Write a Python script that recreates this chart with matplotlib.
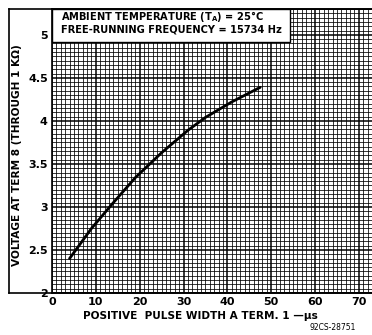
import matplotlib
matplotlib.use('Agg')
from matplotlib import pyplot as plt
from matplotlib.ticker import MultipleLocator
from matplotlib.patches import Rectangle

plt.rcParams.update({
    'font.family': 'DejaVu Sans',
    'font.weight': 'bold',
    'figure.dpi': 100,
})

# curve
pulse_width = [4, 9, 14, 19, 25, 31, 35, 41, 47.5]
voltage = [2.40, 2.75, 3.05, 3.34, 3.63, 3.89, 4.04, 4.22, 4.39]

x_ticks = [0, 10, 20, 30, 40, 50, 60, 70]
y_ticks = [2, 2.5, 3, 3.5, 4, 4.5, 5]
y_tick_labels = ['2', '2.5', '3', '3.5', '4', '4.5', '5']

fig = plt.figure(figsize=(3.72, 3.35))
ax = fig.add_axes([52 / 372, 1 - 293 / 335, 320 / 372, 284 / 335])

ax.plot(pulse_width, voltage, color='black', lw=2.0, solid_capstyle='round')

ax.set_xlim(0, 73)
ax.set_ylim(2, 5.30)
ax.set_xticks(x_ticks)
ax.set_yticks(y_ticks)
ax.set_yticklabels(y_tick_labels)
ax.xaxis.set_minor_locator(MultipleLocator(1))
ax.yaxis.set_minor_locator(MultipleLocator(0.05))
ax.grid(True, which='major', color='black', lw=1.1)
ax.grid(True, which='minor', color='black', lw=0.55)
ax.set_axisbelow(True)
ax.tick_params(which='both', length=0, labelsize=8, pad=3)
for lab in ax.get_xticklabels() + ax.get_yticklabels():
    lab.set_fontweight('bold')
for s in ax.spines.values():
    s.set_linewidth(1.2)
ax.spines['right'].set_visible(False)

# outer frame around the labels
fig.add_artist(plt.Line2D([9 / 372, 9 / 372], [1 - 9 / 335, 1 - 293 / 335],
                          transform=fig.transFigure, color='black', lw=1.2))
fig.add_artist(plt.Line2D([9 / 372, 1], [1 - 9 / 335, 1 - 9 / 335],
                          transform=fig.transFigure, color='black', lw=1.2))
fig.add_artist(plt.Line2D([9 / 372, 1], [1 - 293 / 335, 1 - 293 / 335],
                          transform=fig.transFigure, color='black', lw=1.2))

# white note box
fig.add_artist(Rectangle((52 / 372, 1 - 42 / 335), 238 / 372, 33 / 335,
                         transform=fig.transFigure, facecolor='white',
                         edgecolor='black', lw=1.0, zorder=5))
fig.text(61 / 372, 1 - 17 / 335, 'AMBIENT TEMPERATURE (T$_\\mathbf{A}$) = 25°C',
         fontsize=7.1, fontweight='bold', va='center', ha='left', zorder=6)
fig.text(61 / 372, 1 - 30 / 335, 'FREE-RUNNING FREQUENCY = 15734 Hz',
         fontsize=7.1, fontweight='bold', va='center', ha='left', zorder=6)

fig.text(17 / 372, 1 - 155 / 335, 'VOLTAGE AT TERM 8 (THROUGH 1 KΩ)',
         rotation=90, fontsize=7.6, fontweight='bold', va='center', ha='center')
fig.text(200 / 372, 1 - 316 / 335, 'POSITIVE  PULSE WIDTH A TERM. 1 —μs',
         fontsize=7.6, fontweight='bold', va='center', ha='center')
fig.text(333 / 372, 1 - 328 / 335, '92CS-28751', fontsize=5.5,
         va='center', ha='center', fontweight='normal')

fig.savefig('out.png', dpi=100)
